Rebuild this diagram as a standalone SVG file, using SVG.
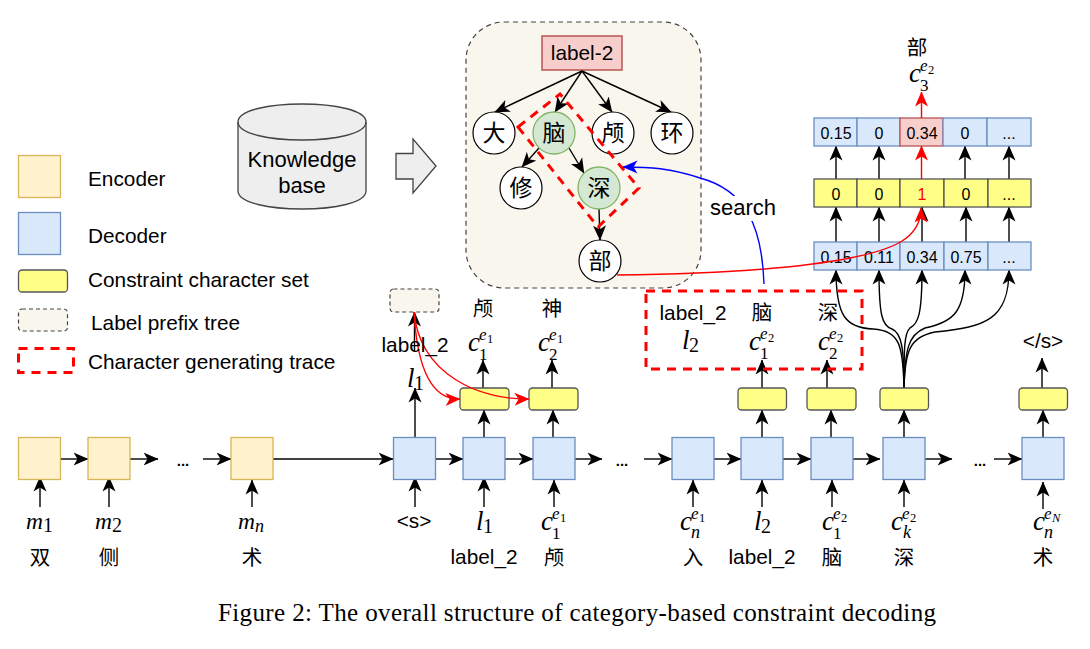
<svg xmlns="http://www.w3.org/2000/svg" width="1090" height="649" viewBox="0 0 1090 649">
<defs>
<style>
text{font-family:"Liberation Sans","Noto Sans CJK SC",sans-serif;fill:#000}
.t{font-size:20.800px}
.v{font-size:16px;text-anchor:middle}
.dots{font-size:15px;font-weight:bold;text-anchor:middle}
.mid{text-anchor:middle}
.cjk{font-family:"Noto Sans CJK SC","Liberation Sans",sans-serif;font-size:20.500px;text-anchor:middle}
.ck{font-family:"Noto Sans CJK SC","Liberation Sans",sans-serif;font-size:23px;text-anchor:middle}
.m{font-family:"Liberation Serif",serif;font-style:italic;font-size:27px}
.mm{font-family:"Liberation Serif",serif;font-style:italic;font-size:23.500px}
.sup{font-family:"Liberation Serif",serif;font-style:italic;font-size:17px}
.sub{font-family:"Liberation Serif",serif;font-size:17px}
.subl{font-family:"Liberation Serif",serif;font-size:20px}
.subi{font-family:"Liberation Serif",serif;font-style:italic;font-size:18px}
.ss{font-family:"Liberation Serif",serif;font-size:12.500px}
.ssi{font-family:"Liberation Serif",serif;font-style:italic;font-size:12.500px}
.enc{fill:#fff2cc;stroke:#d6b656;stroke-width:1.3}
.dec{fill:#dae8fc;stroke:#6c8ebf;stroke-width:1.3}
.set{fill:#ffff88;stroke:#555;stroke-width:1.3}
.pre{fill:#f9f7ed;stroke:#444;stroke-width:1.2;stroke-dasharray:4 3}
.trace{fill:none;stroke:#f00;stroke-width:3;stroke-dasharray:9 7}
.n{fill:#fff;stroke:#000;stroke-width:1.2}
.g{fill:#d5e8d4;stroke:#82b366;stroke-width:1.3}
.c{fill:none;stroke:#000;stroke-width:1.4;marker-end:url(#a)}
.r{fill:none;stroke:#f00;stroke-width:1.4;marker-end:url(#ar)}
.b{fill:none;stroke:#00f;stroke-width:1.4;marker-end:url(#ab)}
</style>
<marker id="a" markerUnits="userSpaceOnUse" markerWidth="15" markerHeight="14" viewBox="0 0 15 14" refX="14.500" refY="7" orient="auto"><path d="M0,0.500 L15,7 L0,13.500 L4,7 Z" fill="#000"/></marker>
<marker id="ar" markerUnits="userSpaceOnUse" markerWidth="15" markerHeight="14" viewBox="0 0 15 14" refX="14.500" refY="7" orient="auto"><path d="M0,0.500 L15,7 L0,13.500 L4,7 Z" fill="#f00"/></marker>
<marker id="ab" markerUnits="userSpaceOnUse" markerWidth="15" markerHeight="14" viewBox="0 0 15 14" refX="14.500" refY="7" orient="auto"><path d="M0,0.500 L15,7 L0,13.500 L4,7 Z" fill="#00f"/></marker>
</defs>
<rect width="1090" height="649" fill="#fff"/>

<g id="legend">
<rect class="enc" x="18.500" y="155.500" width="42" height="42"/>
<text class="t" x="88" y="186">Encoder</text>
<rect class="dec" x="18.500" y="212.500" width="42" height="42"/>
<text class="t" x="88" y="243">Decoder</text>
<rect class="set" x="18.500" y="270" width="49" height="22" rx="3.500"/>
<text class="t" x="88" y="287">Constraint character set</text>
<rect class="pre" x="18.500" y="309" width="49" height="22" rx="3.500"/>
<text class="t" x="91" y="330">Label prefix tree</text>
<rect class="trace" x="18.500" y="348.500" width="55" height="24"/>
<text class="t" x="88" y="369">Character generating trace</text>
</g>

<g id="knowledge-base">
<path d="M238,122 C238,98 366,98 366,122 L366,191 C366,215 238,215 238,191 Z" fill="#eee" stroke="#444" stroke-width="1.3"/>
<path d="M238,122 C238,146 366,146 366,122" fill="none" stroke="#444" stroke-width="1.3"/>
<text class="mid" x="302" y="167" font-size="22">Knowledge</text>
<text class="mid" x="302" y="193" font-size="22">base</text>
</g>
<g id="block-arrow"><path d="M396,153.500 H413 V139 L436,166 L413,193 V179 H396 Z" fill="#eee" stroke="#444" stroke-width="1.3"/></g>

<g id="tree-panel"><rect x="466" y="22" width="235" height="266" rx="38" fill="#f9f7ed" stroke="#444" stroke-width="1.2" stroke-dasharray="5 4"/></g>
<g id="node-root"><rect x="542" y="36" width="80" height="34" fill="#f8cecc" stroke="#b85450" stroke-width="1.5"/><text class="t mid" x="582" y="60">label-2</text></g>

<g id="connectors">
<path class="c" d="M582,71 L495,112"/>
<path class="c" d="M582,71 L555,112"/>
<path class="c" d="M582,71 L612,112"/>
<path class="c" d="M582,71 L671,112"/>
<path class="c" d="M539,148 L522,167"/>
<path class="c" d="M569,148 L584,173"/>
<path class="c" d="M599,209 L600,240"/>

<path class="c" d="M61,459 H88"/>
<path class="c" d="M130,459 H158"/>
<path class="c" d="M203,459 H231"/>
<path class="c" d="M273,459 H393"/>
<path class="c" d="M436,459 H463"/>
<path class="c" d="M505,459 H533"/>
<path class="c" d="M575,459 H602"/>
<path class="c" d="M644,459 H672"/>
<path class="c" d="M714,459 H741"/>
<path class="c" d="M783,459 H811"/>
<path class="c" d="M853,459 H880"/>
<path class="c" d="M925,459 H952"/>
<path class="c" d="M994,459 H1022"/>

<path class="c" d="M40,507 V477"/>
<path class="c" d="M109,507 V477"/>
<path class="c" d="M252,507 V480"/>
<path class="c" d="M415,507 V477"/>
<path class="c" d="M484,507 V477"/>
<path class="c" d="M554,507 V480"/>
<path class="c" d="M693,507 V480"/>
<path class="c" d="M762,507 V480"/>
<path class="c" d="M832,507 V480"/>
<path class="c" d="M904,507 V480"/>
<path class="c" d="M1043,509 V482"/>

<path class="c" d="M415,437 V388"/>
<path class="c" d="M484,437 V410"/>
<path class="c" d="M553,437 V410"/>
<path class="c" d="M762,437 V410"/>
<path class="c" d="M831,437 V410"/>
<path class="c" d="M904,437 V410"/>
<path class="c" d="M1043,437 V410"/>

<path class="c" d="M483,388 V360"/>
<path class="c" d="M552,388 V360"/>
<path class="c" d="M762,388 V360"/>
<path class="c" d="M827,388 V360"/>
<path class="c" d="M1042,388 V358"/>
<path class="c" d="M414.500,352 V312"/>

<path class="c" d="M904,388 C903,345 900,331 873,329 C845,328 836,315 836,270"/>
<path class="c" d="M904,388 C904,350 902,333 892,329 C882,326 879,315 879,270"/>
<path class="c" d="M904,388 C904,350 904,333 910,328 C918,324 922,315 922,270"/>
<path class="c" d="M904,388 C905,350 908,335 925,328 C955,322 965,310 965,270"/>
<path class="c" d="M904,388 C905,350 910,337 935,332 C985,327 1009,320 1009,270"/>

<path class="c" d="M836,242 V207"/>
<path class="c" d="M879,242 V207"/>
<path class="c" d="M922,242 V207"/>
<path class="c" d="M966,242 V207"/>
<path class="c" d="M1009,242 V207"/>
<path class="c" d="M836,179 V146"/>
<path class="c" d="M879,179 V146"/>
<path class="c" d="M965,179 V146"/>
<path class="c" d="M1009,179 V146"/>
</g>

<g id="yellow-boxes">
<rect class="set" x="460" y="388" width="49" height="22" rx="3.500"/>
<rect class="set" x="529" y="388" width="49" height="22" rx="3.500"/>
<rect class="set" x="738" y="388" width="48.500" height="22" rx="3.500"/>
<rect class="set" x="807" y="388" width="49" height="22" rx="3.500"/>
<rect class="set" x="880" y="388" width="48.500" height="22" rx="3.500"/>
<rect class="set" x="1019" y="388" width="48.500" height="22" rx="3.500"/>
</g>
<g id="encoders">
<rect class="enc" x="18.500" y="437.500" width="42" height="42"/>
<rect class="enc" x="88" y="437.500" width="42" height="42"/>
<rect class="enc" x="231" y="437.500" width="42" height="42"/>
</g>
<g id="decoders">
<rect class="dec" x="393.500" y="437.500" width="42" height="42"/>
<rect class="dec" x="463" y="437.500" width="42" height="42"/>
<rect class="dec" x="533" y="437.500" width="42" height="42"/>
<rect class="dec" x="672" y="437.500" width="42" height="42"/>
<rect class="dec" x="741" y="437.500" width="42" height="42"/>
<rect class="dec" x="811" y="437.500" width="42" height="42"/>
<rect class="dec" x="883" y="437.500" width="42" height="42"/>
<rect class="dec" x="1022" y="437.500" width="42" height="42"/>
</g>
<g id="node-prefix"><rect class="pre" x="390" y="289" width="49" height="23" rx="3.500"/></g>

<g id="nodes-tree">
<g id="n-da"><circle class="n" cx="494" cy="133" r="21"/><text class="ck" x="494" y="141">大</text></g>
<g id="n-nao"><circle class="g" cx="554" cy="133" r="21"/><text class="ck" x="554" y="141">脑</text></g>
<g id="n-lu"><circle class="n" cx="613" cy="133" r="21"/><text class="ck" x="613" y="141">颅</text></g>
<g id="n-huan"><circle class="n" cx="672" cy="133" r="21"/><text class="ck" x="672" y="141">环</text></g>
<g id="n-xiu"><circle class="n" cx="521" cy="188" r="21"/><text class="ck" x="521" y="196">修</text></g>
<g id="n-shen"><circle class="g" cx="599" cy="188" r="21"/><text class="ck" x="599" y="196">深</text></g>
<g id="n-bu"><circle class="n" cx="600" cy="261" r="21"/><text class="ck" x="600" y="269">部</text></g>
</g>
<path id="trace-tree" class="trace" d="M518,127 L560,94 L639,188 L598,227 Z"/>

<g id="matrix-top">
<rect class="dec" x="814" y="118" width="43" height="28"/><text class="v" x="836" y="139">0.15</text>
<rect class="dec" x="857" y="118" width="43" height="28"/><text class="v" x="879" y="139">0</text>
<rect x="900" y="118" width="43" height="28" fill="#f8cecc" stroke="#b85450" stroke-width="1.3"/><text class="v" x="922" y="139">0.34</text>
<rect class="dec" x="943" y="118" width="44" height="28"/><text class="v" x="965" y="139">0</text>
<rect class="dec" x="987" y="118" width="44" height="28"/><text class="v" x="1009" y="139">...</text>
</g>
<g id="matrix-mid">
<rect class="set" x="814" y="179" width="43" height="28"/><text class="v" x="836" y="200">0</text>
<rect class="set" x="857" y="179" width="43" height="28"/><text class="v" x="879" y="200">0</text>
<rect class="set" x="900" y="179" width="44" height="28"/><text class="v" x="922" y="200" style="fill:#f00">1</text>
<rect class="set" x="944" y="179" width="44" height="28"/><text class="v" x="966" y="200">0</text>
<rect class="set" x="988" y="179" width="43" height="28"/><text class="v" x="1009" y="200">...</text>
</g>
<g id="matrix-low">
<rect class="dec" x="814" y="242" width="43" height="28"/><text class="v" x="836" y="263">0.15</text>
<rect class="dec" x="857" y="242" width="43" height="28"/><text class="v" x="879" y="263">0.11</text>
<rect class="dec" x="900" y="242" width="44" height="28"/><text class="v" x="922" y="263">0.34</text>
<rect class="dec" x="944" y="242" width="44" height="28"/><text class="v" x="966" y="263">0.75</text>
<rect class="dec" x="988" y="242" width="43" height="28"/><text class="v" x="1009" y="263">...</text>
</g>

<g id="highlight-connectors">
<path class="r" d="M921.500,179 V146"/>
<path class="r" d="M921.500,118 V92"/>
<path class="r" d="M617,275 C700,274 790,270 850,258 C890,250 921,240 921,208"/>
<path class="r" d="M414,312 C417,365 430,400 460,399"/>
<path class="r" d="M414,312 C420,375 480,400 529,399"/>
<path class="b" d="M764,284 C762,225 745,190 700,178 C670,168 650,167 623,167"/>
</g>
<rect x="708" y="196" width="70" height="25" fill="#fff"/>
<text class="mid" x="743" y="215" font-size="22">search</text>

<rect id="trace-box" class="trace" x="646" y="291" width="216" height="78"/>

<g id="labels">
<text class="t mid" x="415" y="352">label_2</text>
<text class="t mid" x="693" y="320">label_2</text>
<text class="t mid" x="484" y="564">label_2</text>
<text class="t mid" x="762" y="564">label_2</text>
<text class="t mid" x="414" y="528">&lt;s&gt;</text>
<text class="t mid" x="1043" y="348">&lt;/s&gt;</text>
<text class="cjk" x="483" y="316">颅</text>
<text class="cjk" x="552" y="316">神</text>
<text class="cjk" x="762" y="320">脑</text>
<text class="cjk" x="828" y="320">深</text>
<text class="cjk" x="917" y="55">部</text>
<text class="cjk" x="40" y="565">双</text>
<text class="cjk" x="109" y="565">侧</text>
<text class="cjk" x="252" y="565">术</text>
<text class="cjk" x="554" y="565">颅</text>
<text class="cjk" x="693" y="565">入</text>
<text class="cjk" x="832" y="565">脑</text>
<text class="cjk" x="904" y="565">深</text>
<text class="cjk" x="1043" y="565">术</text>
<text class="dots" x="183" y="466">...</text>
<text class="dots" x="622" y="466">...</text>
<text class="dots" x="980" y="466">...</text>

<text class="mm" x="26" y="529">m</text><text class="subl" x="43" y="532">1</text>
<text class="mm" x="95" y="529">m</text><text class="subl" x="112" y="532">2</text>
<text class="mm" x="238" y="529">m</text><text class="subi" x="255" y="532">n</text>
<text class="m" x="407" y="387">l</text><text class="subl" x="414" y="390">1</text>
<text class="m" x="476" y="530">l</text><text class="subl" x="483" y="533">1</text>
<text class="m" x="754" y="530">l</text><text class="subl" x="761" y="533">2</text>
<text class="m" x="682" y="349">l</text><text class="subl" x="689" y="352">2</text>

<text class="m" x="468" y="351">c</text><text class="sup" x="479" y="340">e</text><text class="ss" x="487" y="343">1</text><text class="sub" x="479" y="360">1</text>
<text class="m" x="538" y="351">c</text><text class="sup" x="549" y="340">e</text><text class="ss" x="557" y="343">1</text><text class="sub" x="549" y="360">2</text>
<text class="m" x="749" y="350">c</text><text class="sup" x="760" y="339">e</text><text class="ss" x="768" y="342">2</text><text class="sub" x="760" y="359">1</text>
<text class="m" x="818" y="350">c</text><text class="sup" x="829" y="339">e</text><text class="ss" x="837" y="342">2</text><text class="sub" x="829" y="359">2</text>
<text class="m" x="909" y="82">c</text><text class="sup" x="920" y="71">e</text><text class="ss" x="928" y="74">2</text><text class="sub" x="920" y="91">3</text>
<text class="m" x="541" y="530">c</text><text class="sup" x="552" y="519">e</text><text class="ss" x="560" y="522">1</text><text class="sub" x="552" y="539">1</text>
<text class="m" x="680" y="530">c</text><text class="sup" x="691" y="519">e</text><text class="ss" x="699" y="522">1</text><text class="subi" x="691" y="538">n</text>
<text class="m" x="822" y="530">c</text><text class="sup" x="833" y="519">e</text><text class="ss" x="841" y="522">2</text><text class="sub" x="833" y="539">1</text>
<text class="m" x="891" y="530">c</text><text class="sup" x="902" y="519">e</text><text class="ss" x="910" y="522">2</text><text class="subi" x="903" y="538">k</text>
<text class="m" x="1033" y="530">c</text><text class="sup" x="1044" y="519">e</text><text class="ssi" x="1052" y="522">N</text><text class="subi" x="1044" y="538">n</text>
</g>

<text id="caption" x="218" y="621" font-size="25" textLength="718" style="font-family:'Liberation Serif',serif">Figure 2: The overall structure of category-based constraint decoding</text>
</svg>
